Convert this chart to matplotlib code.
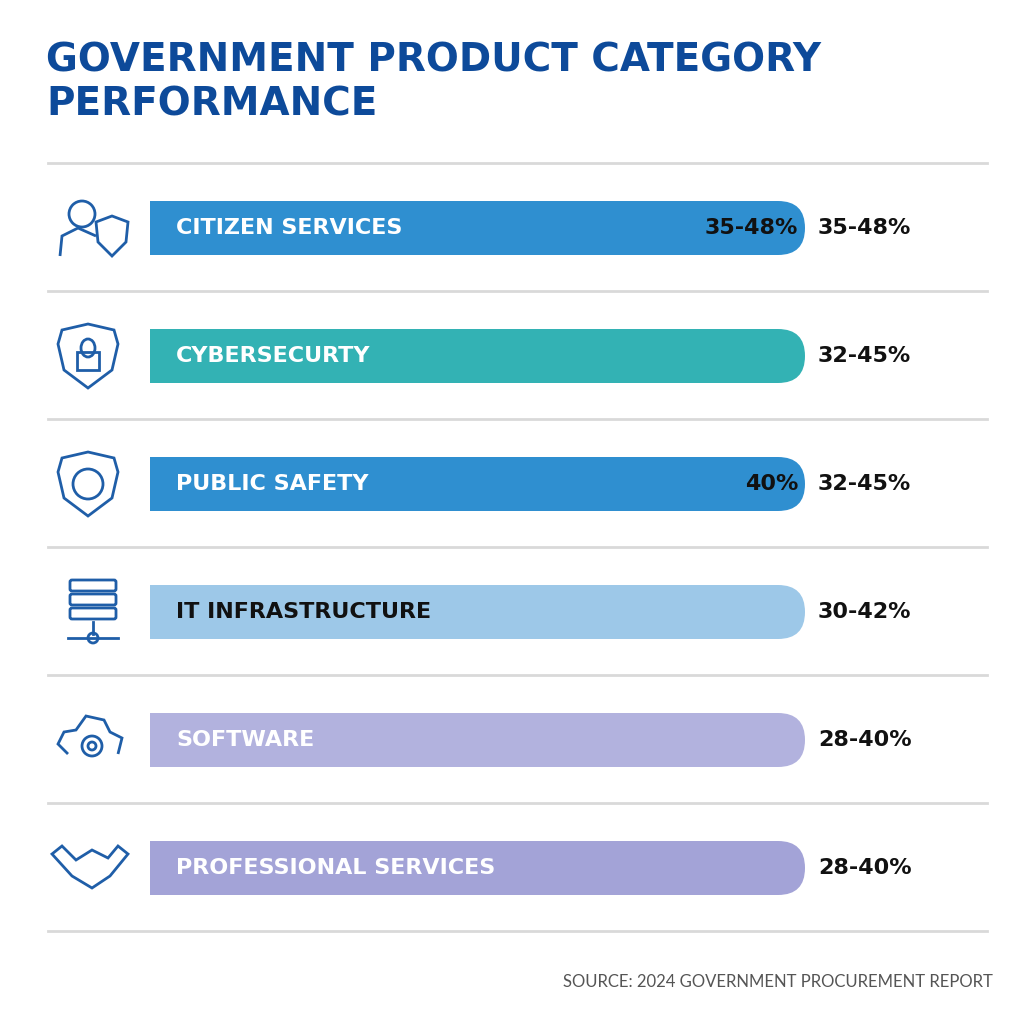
import matplotlib
matplotlib.use("Agg")
import matplotlib.pyplot as plt
from matplotlib.patches import FancyBboxPatch, Circle, Rectangle, Polygon, Ellipse

categories = ["CITIZEN SERVICES", "CYBERSECURTY", "PUBLIC SAFETY", "IT INFRASTRUCTURE", "SOFTWARE", "PROFESSIONAL SERVICES"]
range_labels = ["35-48%", "32-45%", "32-45%", "30-42%", "28-40%", "28-40%"]
inner_labels = ["35-48%", "", "40%", "", "", ""]
bar_colors = ["#2f8fd0", "#33b2b4", "#2f8fd0", "#9dc8e8", "#b2b2de", "#a3a3d7"]
text_colors = ["white", "white", "white", "#111111", "white", "white"]

plt.rcParams['font.family'] = ['Lato', 'DejaVu Sans']
fig = plt.figure(figsize=(10.24, 10.24), dpi=100)
ax = fig.add_axes([0, 0, 1, 1])
ax.set_xlim(0, 1024); ax.set_ylim(1024, 0); ax.axis('off')

navy = "#0d4a9a"
tf = dict(fontsize=28, fontweight='bold', color=navy, va='center', family='DejaVu Sans')
ax.text(46, 60, "GOVERNMENT PRODUCT CATEGORY", **tf)
ax.text(46, 105, "PERFORMANCE", **tf)
lf = dict(fontsize=16, fontweight='bold', va='center', family='DejaVu Sans')

row0, step = 228, 128
for i in range(len(categories) + 1):
    y = row0 - 65 + i * step
    ax.plot([48, 987], [y, y], color="#d9d9d9", lw=2)

icol = "#1f5ea8"
for i, cat in enumerate(categories):
    yc = row0 + i * step
    ax.add_patch(FancyBboxPatch((150, yc - 27), 655, 54, boxstyle="round,pad=0,rounding_size=27",
                                fc=bar_colors[i], ec='none', mutation_aspect=1))
    ax.add_patch(Rectangle((150, yc - 27), 40, 54, fc=bar_colors[i], ec='none'))
    ax.text(176, yc, cat, color=text_colors[i], **lf)
    if inner_labels[i]:
        ax.text(798, yc, inner_labels[i], color="#111111", ha='right', **lf)
    ax.text(818, yc, range_labels[i], color="#111111", **lf)
    kw = dict(fc='none', ec=icol, lw=2)
    if i == 0:
        ax.add_patch(Circle((82, yc - 14), 13, **kw))
        ax.add_patch(Polygon([[60, yc + 28], [62, yc + 8], [78, yc], [96, yc + 8]], closed=False, **kw))
        ax.add_patch(Polygon([[96, yc - 6], [112, yc - 12], [128, yc - 6], [126, yc + 14], [112, yc + 28], [98, yc + 14]], **kw))
    elif i in (1, 2):
        ax.add_patch(Polygon([[62, yc - 26], [88, yc - 32], [114, yc - 26], [118, yc - 12], [112, yc + 14], [88, yc + 32], [64, yc + 14], [58, yc - 12]], **kw))
        if i == 1:
            ax.add_patch(Rectangle((77, yc - 4), 22, 18, **kw))
            ax.add_patch(Ellipse((88, yc - 8), 14, 18, **kw))
        else:
            ax.add_patch(Circle((88, yc), 15, **kw))
    elif i == 3:
        for k in range(3):
            ax.add_patch(FancyBboxPatch((70, yc - 32 + k * 14), 46, 11, boxstyle="round,pad=0,rounding_size=2", **kw))
        ax.plot([93, 93], [yc + 10, yc + 22], color=icol, lw=2)
        ax.plot([68, 118], [yc + 26, yc + 26], color=icol, lw=2)
        ax.add_patch(Circle((93, yc + 26), 5, fc='white', ec=icol, lw=2))
    elif i == 4:
        ax.add_patch(Polygon([[68, yc + 14], [58, yc + 4], [64, yc - 8], [76, yc - 10], [86, yc - 24], [104, yc - 20], [110, yc - 8], [122, yc - 2], [118, yc + 14]], closed=False, **kw))
        ax.add_patch(Circle((92, yc + 6), 10, **kw))
        ax.add_patch(Circle((92, yc + 6), 4, **kw))
    else:
        ax.add_patch(Polygon([[52, yc - 14], [62, yc - 22], [76, yc - 8], [92, yc - 18], [108, yc - 10], [118, yc - 22], [128, yc - 14], [110, yc + 8], [92, yc + 20], [72, yc + 8]], **kw))

ax.text(993, 982, "SOURCE: 2024 GOVERNMENT PROCUREMENT REPORT", fontsize=12, color="#555555", ha='right', va='center')
fig.savefig("out.png", dpi=100, facecolor='white')
